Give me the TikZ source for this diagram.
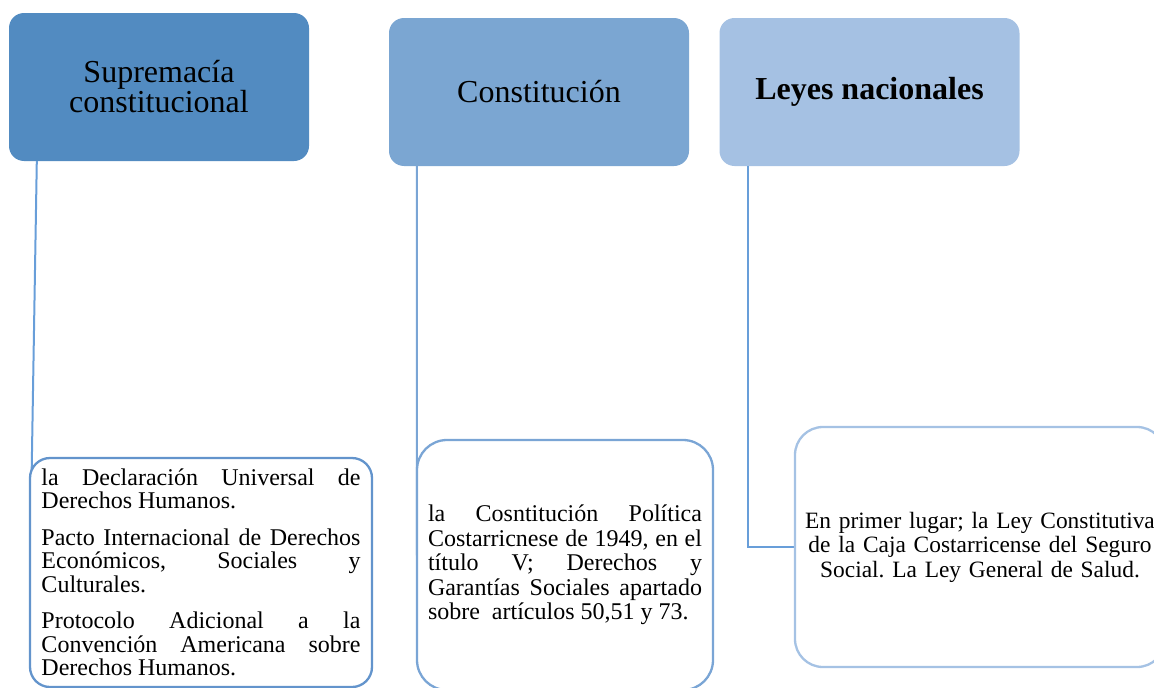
\documentclass[tikz,border=0pt]{standalone}
\usepackage{fontspec}
\setmainfont{Liberation Serif}
\usepackage{tikz}
\hyphenpenalty=10000
\exhyphenpenalty=10000
\tolerance=9000
\frenchspacing
\definecolor{hdrA}{RGB}{82,139,193}
\definecolor{hdrB}{RGB}{123,166,210}
\definecolor{hdrC}{RGB}{165,193,227}
\definecolor{edgeA}{RGB}{99,148,204}
\definecolor{edgeB}{RGB}{122,165,213}
\definecolor{edgeC}{RGB}{165,194,228}
\definecolor{wireA}{RGB}{104,158,217}
\tikzstyle{header}=[rectangle, rounded corners=15pt, minimum width=300pt, minimum height=148pt, align=center, inner sep=0pt, font=\fontsize{32}{30}\selectfont]
\tikzstyle{leaf}=[rectangle, fill=white, line width=2.3pt, rounded corners=24pt, inner sep=0pt, font=\fontsize{24}{24.5}\selectfont]
\tikzstyle{wire}=[line width=2pt]

\begin{document}
\begin{tikzpicture}[x=1pt, y=-1pt]
                    \useasboundingbox (0, 0) rectangle (1154, 688);
                    \clip (0, 0) rectangle (1154, 688);
                    \node[header, fill=hdrA] (sup) at (159, 87) {Supremacía\\constitucional};
                    \node[header, fill=hdrB] (con) at (539, 92) {Constitución};
                    \node[header, fill=hdrC, font=\fontsize{32}{30}\selectfont\bfseries] (ley) at (869.5, 92) {Leyes nacionales};
                    \draw[wire, wireA] ([xshift=28pt]sup.south west) -- (30, 572.5);
                    \draw[wire, edgeB] ([xshift=28pt]con.south west) -- (417, 565);
                    \draw[wire, wireA] ([xshift=29pt]ley.south west) |- (795, 547);
                    \node[leaf, draw=edgeA, minimum width=342pt, minimum height=229pt, rounded corners=20pt] (tratados) at (201, 572.5) {};
                    \node[text width=319pt, align=justify, font=\fontsize{24}{23.5}\selectfont] at (tratados) {\setlength{\parskip}{13pt}\setlength{\parindent}{0pt}%
                        la Declaración Universal de Derechos Humanos.\par
                        Pacto Internacional de Derechos Económicos, Sociales y Culturales.\par
                        Protocolo Adicional a la Convención Americana sobre Derechos Humanos.};
                    \node[leaf, draw=edgeB, minimum width=296pt, minimum height=250pt, rounded corners=30pt] (titulo) at (565, 565) {};
                    \node[text width=274pt, align=justify, font=\fontsize{24}{24.5}\selectfont] at (titulo) {la Cosntitución Política Costarricnese de 1949, en el\linebreak título V; Derechos y\linebreak Garantías Sociales apartado sobre~ artículos 50,51 y 73.};
                    \node[leaf, draw=edgeC, minimum width=370pt, minimum height=240pt, rounded corners=28pt] (caja) at (980, 547) {};
                    \node[text width=356pt, align=center, font=\fontsize{23.4}{24.5}\selectfont] at (caja) {En primer lugar; la Ley Constitutiva de la Caja Costarricense del Seguro Social. La Ley General de Salud.};
                \end{tikzpicture}
\end{document}
